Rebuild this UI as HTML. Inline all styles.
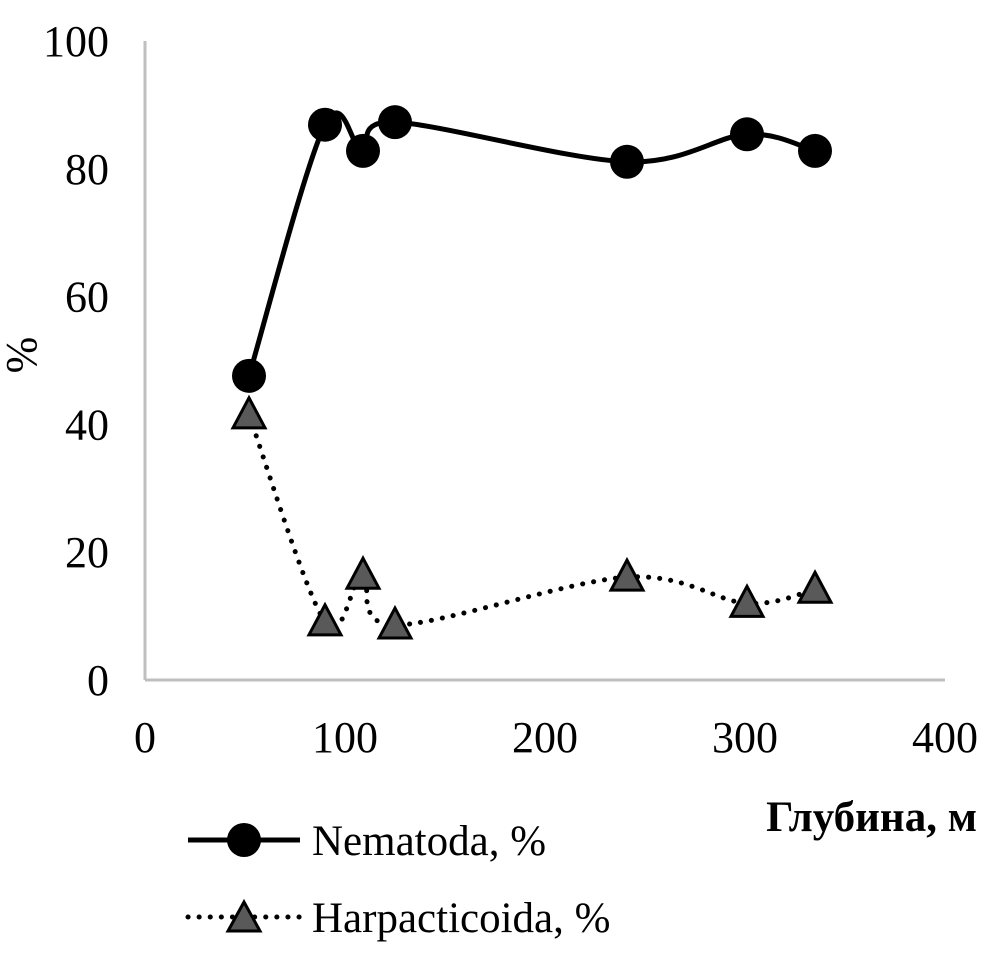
<!DOCTYPE html>
<html><head><meta charset="utf-8"><style>
html,body{margin:0;padding:0;background:#fff;}
svg text{font-family:"Liberation Serif",serif;fill:#000;}
</style></head><body>
<svg id="chart" width="1002" height="959" viewBox="0 0 1002 959" xmlns="http://www.w3.org/2000/svg">
<g id="axes"></g>
<g id="series"></g>
<text transform="translate(36,355) rotate(-90)" font-size="44" text-anchor="middle">%</text>
<text x="977" y="831" font-size="43" font-weight="bold" text-anchor="end">Глубина, м</text>
<g>
 <g>
  <line x1="188" y1="840" x2="300" y2="840" stroke="#000" stroke-width="5"/>
  <circle cx="244" cy="840" r="17" fill="#000"/>
  <text x="312" y="855" font-size="43">Nematoda, %</text>
 </g>
 <g>
  <line x1="188" y1="917" x2="300" y2="917" stroke="#000" stroke-width="5" stroke-dasharray="0.1 11" stroke-linecap="round"/>
  <polygon points="244,902 260,931 228,931" fill="#595959" stroke="#000" stroke-width="3" stroke-linejoin="miter"/>
  <text x="312" y="932" font-size="43">Harpacticoida, %</text>
 </g>
</g>
</svg>
<script>
const depths = [52, 90, 109, 125, 241, 301, 335];
const nematoda = [47.6, 86.9, 82.8, 87.3, 81.1, 85.4, 82.8];
const harpacticoida = [41.5, 9.1, 16.4, 8.6, 16.1, 12.0, 14.2];
const xTicks = [0, 100, 200, 300, 400];
const yTicks = [0, 20, 40, 60, 80, 100];

const NS = "http://www.w3.org/2000/svg";
const xs = v => 145 + v * 2.0;
const ys = v => 680 - v * 6.39;
function mk(tag, attrs, parent){const e=document.createElementNS(NS,tag);for(const k in attrs)e.setAttribute(k,attrs[k]);parent.appendChild(e);return e;}
const axes = document.getElementById('axes');
const series = document.getElementById('series');

let yl = mk('line',{x1:xs(0),y1:ys(0),x2:xs(0),y2:ys(100),stroke:'#bfbfbf','stroke-width':3},axes);


let xl = mk('line',{x1:xs(0),y1:ys(0),x2:xs(400),y2:ys(0),stroke:'#bfbfbf','stroke-width':3},axes);


yTicks.forEach(t=>{
  const e = mk('text',{x:109,y:ys(t)+15,'font-size':44,'text-anchor':'end'},axes);
  e.textContent = t;
  
  
});
xTicks.forEach(t=>{
  const e = mk('text',{x:xs(t),y:752,'font-size':44,'text-anchor':'middle'},axes);
  e.textContent = t;
  
  
});

function smooth(pts){
  let d = `M${pts[0][0]},${pts[0][1]}`;
  for(let i=0;i<pts.length-1;i++){
    const p0=pts[Math.max(0,i-1)],p1=pts[i],p2=pts[i+1],p3=pts[Math.min(pts.length-1,i+2)];
    const c1=[p1[0]+(p2[0]-p0[0])/6,p1[1]+(p2[1]-p0[1])/6];
    const c2=[p2[0]-(p3[0]-p1[0])/6,p2[1]-(p3[1]-p1[1])/6];
    d+=` C${c1[0]},${c1[1]} ${c2[0]},${c2[1]} ${p2[0]},${p2[1]}`;
  }
  return d;
}
const np = depths.map((d,i)=>[xs(d),ys(nematoda[i])]);
const hp = depths.map((d,i)=>[xs(d),ys(harpacticoida[i])]);
let hl = mk('path',{d:smooth(hp),fill:'none',stroke:'#000','stroke-width':5,'stroke-dasharray':'0.1 11','stroke-linecap':'round'},series);


let nl = mk('path',{d:smooth(np),fill:'none',stroke:'#000','stroke-width':5},series);


np.forEach(p=>{
  const c = mk('circle',{cx:p[0],cy:p[1],r:17,fill:'#000'},series);
  
  
});
hp.forEach(p=>{
  const [x,y]=p;
  const t = mk('polygon',{points:`${x},${y-17} ${x+16},${y+13} ${x-16},${y+13}`,fill:'#595959',stroke:'#000','stroke-width':3},series);
  
  
});
</script>
</body></html>
